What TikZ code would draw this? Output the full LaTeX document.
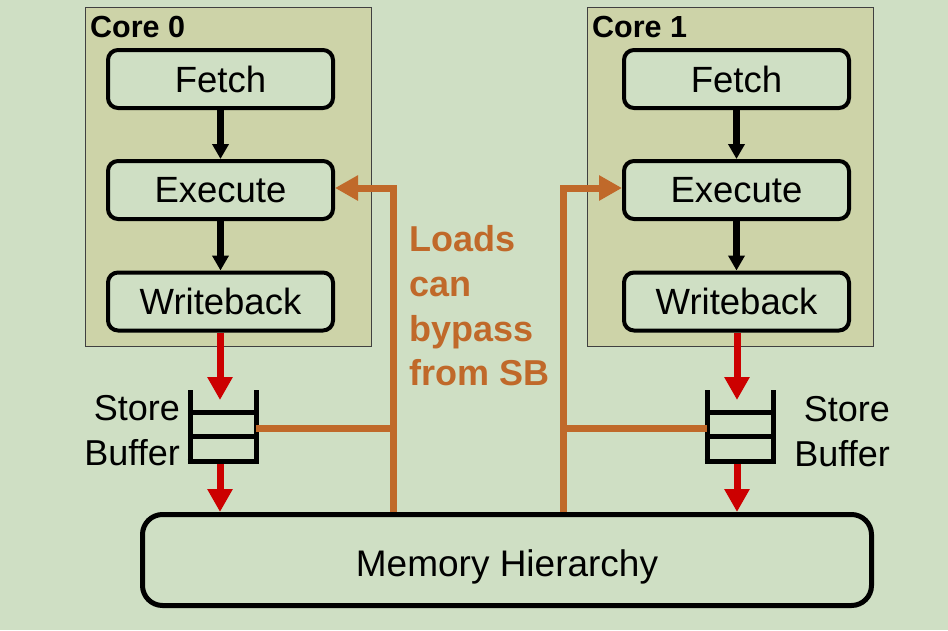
\documentclass[tikz,border=0pt]{standalone}
\usepackage{fontspec}
\setmainfont{Liberation Sans}
\usetikzlibrary{arrows.meta}
\definecolor{bg}{HTML}{CFDFC4}
\definecolor{corefill}{HTML}{CDD3A8}
\definecolor{coreline}{HTML}{404040}
\definecolor{orng}{HTML}{C0692A}
\definecolor{rd}{HTML}{CC0000}
\begin{document}
\begin{tikzpicture}[x=1pt,y=-1pt,
  corebox/.style={draw=coreline, line width=1.5pt, fill=corefill, minimum width=286pt, minimum height=339pt, inner sep=0pt},
  stagebox/.style={draw=black, line width=4pt, rounded corners=10pt, fill=bg, minimum width=225pt, minimum height=58pt, inner sep=0pt, font=\fontsize{36.5}{40}\selectfont},
  membox/.style={draw=black, line width=5pt, rounded corners=20pt, fill=bg, minimum width=729pt, minimum height=91pt, inner sep=0pt, text height=32pt, text depth=0pt, font=\fontsize{37}{40}\selectfont},
  corelabel/.style={anchor=base west, inner sep=0pt, font=\bfseries\fontsize{30.5}{32}\selectfont},
  sblabel/.style={anchor=base east, inner sep=0pt, font=\fontsize{36}{40}\selectfont},
  loadlabel/.style={anchor=base west, inner sep=0pt, text=orng, font=\bfseries\fontsize{36}{40}\selectfont},
  blackarrow/.style={draw=black, line width=7pt, -{Triangle[length=15pt,width=16pt]}},
  redarrow/.style={draw=rd, line width=7pt, -{Triangle[length=23pt,width=24pt]}},
  orangeline/.style={draw=orng, line width=7pt},
  orangearrow/.style={draw=orng, line width=7pt, -{Triangle[length=23pt,width=24pt]}},
  sbline/.style={draw=black, line width=5pt},
]
\fill[bg] (0,0) rectangle (948,630);
\useasboundingbox (0,0) rectangle (948,630);

% cores
\node[corebox] (core0) at (228.5,177) {};
\node[corebox] (core1) at (730.5,177) {};
\node[corelabel] (core0lbl) at (90,37) {Core 0};
\node[corelabel] (core1lbl) at (592,37) {Core 1};

% stages
\node[stagebox] (fetch0) at (220.5,79) {Fetch};
\node[stagebox] (exec0) at (220.5,190) {Execute};
\node[stagebox] (wb0) at (220.5,301.5) {Writeback};
\node[stagebox] (fetch1) at (736.5,79) {Fetch};
\node[stagebox] (exec1) at (736.5,190) {Execute};
\node[stagebox] (wb1) at (736.5,301.5) {Writeback};

\draw[blackarrow] (fetch0.south) -- (exec0.north);
\draw[blackarrow] (exec0.south) -- (wb0.north);
\draw[blackarrow] (fetch1.south) -- (exec1.north);
\draw[blackarrow] (exec1.south) -- (wb1.north);

% memory
\node[membox] (mem) at (507,560) {Memory Hierarchy};

% store buffers
\coordinate (sb0top) at (220,400);
\coordinate (sb0bot) at (220,464);
\coordinate (sb0port) at (256,428);
\coordinate (sb1top) at (737,400);
\coordinate (sb1bot) at (737,464);
\coordinate (sb1port) at (707,428);
\draw[sbline] (190,390) -- (190,464);
\draw[sbline] (256,390) -- (256,464);
\draw[sbline] (190,412) -- (256,412);
\draw[sbline] (190,436) -- (256,436);
\draw[sbline] (187.5,461.5) -- (258.5,461.5);
\draw[sbline] (707,390) -- (707,464);
\draw[sbline] (773,390) -- (773,464);
\draw[sbline] (707,412) -- (773,412);
\draw[sbline] (707,436) -- (773,436);
\draw[sbline] (704.5,461.5) -- (775.5,461.5);

\node[sblabel] (sb0a) at (180,420) {Store};
\node[sblabel] (sb0b) at (180,465) {Buffer};
\node[sblabel] (sb1a) at (890,421) {Store};
\node[sblabel] (sb1b) at (890,466) {Buffer};

% red arrows
\draw[redarrow] (wb0.south -| sb0top) -- (sb0top);
\draw[redarrow] (sb0bot) -- (sb0bot |- mem.north);
\draw[redarrow] (wb1.south -| sb1top) -- (sb1top);
\draw[redarrow] (sb1bot) -- (sb1bot |- mem.north);

% bypass paths
\coordinate (by0) at (393,428);
\coordinate (by1) at (563,428);
\coordinate (by0top) at (393,188);
\coordinate (by1top) at (563,188);
\draw[orangeline] (sb0port) -- (by0);
\draw[orangeline] (sb1port) -- (by1);
\draw[orangearrow] (by0 |- mem.north) -- (by0top) -- (by0top -| exec0.east);
\draw[orangearrow] (by1 |- mem.north) -- (by1top) -- (by1top -| exec1.west);

\node[loadlabel] (l1) at (409,251) {Loads};
\node[loadlabel] (l2) at (409,296) {can};
\node[loadlabel] (l3) at (409,341) {bypass};
\node[loadlabel] (l4) at (409,385) {from SB};
\end{tikzpicture}
\end{document}
